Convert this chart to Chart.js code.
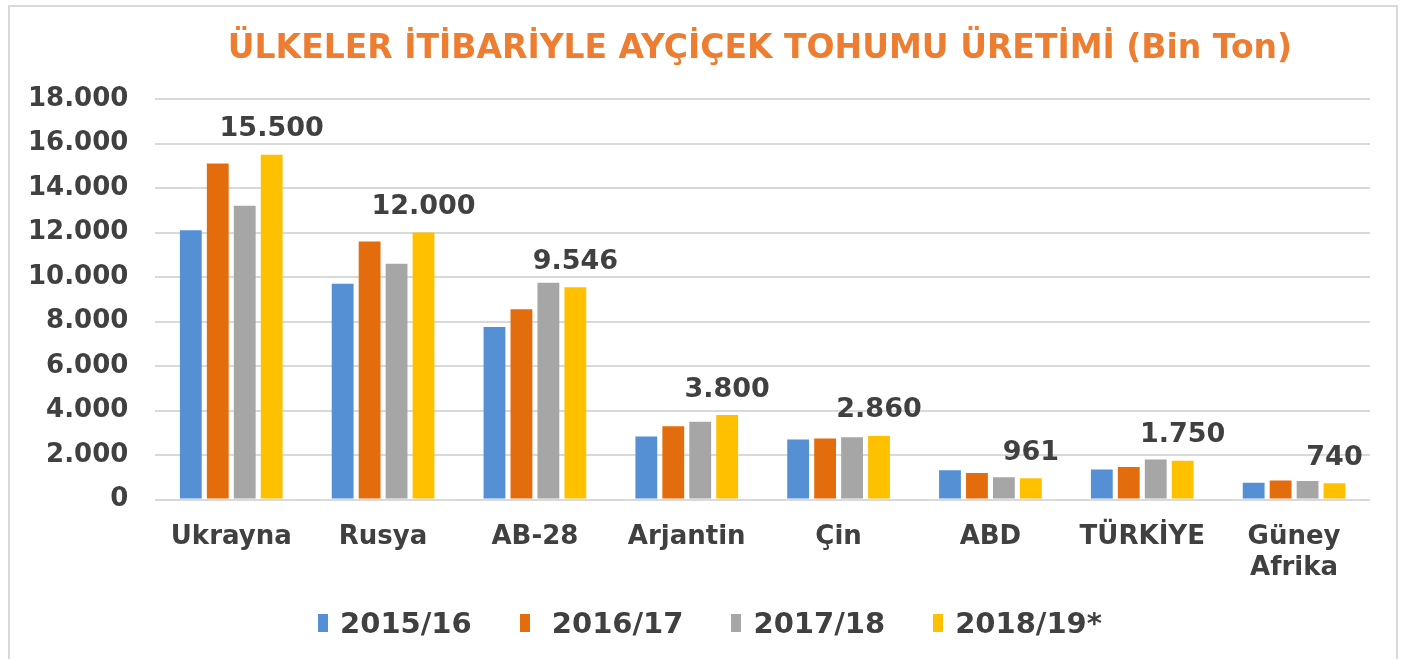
<!DOCTYPE html>
<html lang="tr">
<head>
<meta charset="utf-8">
<title>Ayçiçek Tohumu Üretimi</title>
<script src="https://cdn.jsdelivr.net/npm/chart.js@4/dist/chart.umd.min.js"></script>
<style>
    html, body { margin: 0; padding: 0; background: #fff; width: 1420px; height: 659px; overflow: hidden; }
    .frame {
        position: absolute;
        left: 8px;
        top: 5px;
        width: 1390px;
        height: 660px;
        border: 2px solid #d9d9d9;
        box-sizing: border-box;
    }
    .frame canvas { display: block; }
    .chart-title {
        position: absolute;
        left: 0;
        top: 27px;
        width: 1420px;
        padding-left: 100px;
        box-sizing: border-box;
        text-align: center;
        font: bold 33px 'DejaVu Sans', Verdana, sans-serif;
        color: #ed7d31;
        line-height: 40px;
        white-space: nowrap;
    }
    .chart-legend {
        position: absolute;
        left: 0;
        top: 603px;
        width: 1420px;
        box-sizing: border-box;
        display: flex;
        justify-content: center;
        gap: 48px;
        font: bold 29px 'DejaVu Sans', Verdana, sans-serif;
        color: #404040;
        line-height: 40px;
    }
    .chart-legend .item { display: flex; align-items: center; white-space: pre; }
    .chart-legend .swatch { width: 10px; height: 18px; margin-right: 12px; }
</style>
</head>
<body>
<div class="frame"><canvas id="sunflowerChart"></canvas></div>
<div class="chart-title" id="chartTitle"></div>
<div class="chart-legend" id="chartLegend"></div>
<script>
const chartTitle = "ÜLKELER İTİBARİYLE AYÇİÇEK TOHUMU ÜRETİMİ (Bin Ton)";
const categories = ["Ukrayna", "Rusya", "AB-28", "Arjantin", "Çin", "ABD", "TÜRKİYE", ["Güney", "Afrika"]];
const seasons = ["2015/16", " 2016/17", "2017/18", "2018/19*"];
const values1516 = [12100, 9700, 7750, 2830, 2700, 1320, 1350, 760];
const values1617 = [15100, 11600, 8550, 3300, 2740, 1190, 1470, 860];
const values1718 = [13200, 10600, 9740, 3500, 2800, 1000, 1800, 840];
const values1819 = [15500, 12000, 9546, 3800, 2860, 961, 1750, 740];
const colors = ["#5590d4", "#e36c0c", "#a6a6a6", "#ffc000"];

const TEXT_COLOR = "#404040";
const FONT = "'DejaVu Sans', Verdana, sans-serif";

function fmt(v) {
    return String(v).replace(/\B(?=(\d{3})+(?!\d))/g, ".");
}

document.getElementById("chartTitle").textContent = chartTitle;

const legendEl = document.getElementById("chartLegend");
seasons.forEach((s, i) => {
    const item = document.createElement("div");
    item.className = "item";
    const sw = document.createElement("span");
    sw.className = "swatch";
    sw.style.background = colors[i];
    item.appendChild(sw);
    item.appendChild(document.createTextNode(s));
    legendEl.appendChild(item);
});

// labels only above the last season
const lastSeasonLabels = {
    id: "lastSeasonLabels",
    afterDatasetsDraw(chart) {
        const idx = chart.data.datasets.length - 1;
        const meta = chart.getDatasetMeta(idx);
        const ctx = chart.ctx;
        ctx.save();
        ctx.font = "bold 27px " + FONT;
        ctx.fillStyle = TEXT_COLOR;
        ctx.textAlign = "center";
        ctx.textBaseline = "bottom";
        meta.data.forEach((bar, i) => {
            const v = chart.data.datasets[idx].data[i];
            ctx.fillText(fmt(v), bar.x, bar.y - 12);
        });
        ctx.restore();
    },
};

const canvas = document.getElementById("sunflowerChart");
canvas.width = 1386;
canvas.height = 656;

new Chart(canvas, {
    type: "bar",
    data: {
        labels: categories,
        datasets: [values1516, values1617, values1718, values1819].map((d, i) => ({
            label: seasons[i],
            data: d,
            backgroundColor: colors[i],
            borderWidth: 0,
            categoryPercentage: 0.71,
            barPercentage: 0.81,
        })),
    },
    options: {
        responsive: false,
        animation: false,
        layout: { padding: { left: -9, right: 26, top: 92, bottom: 65 } },
        plugins: {
            title: { display: false },
            legend: { display: false },
            tooltip: { enabled: false },
        },
        scales: {
            x: {
                grid: { display: false },
                border: { display: false },
                ticks: {
                    color: TEXT_COLOR,
                    font: { family: FONT, size: 26, weight: "bold" },
                    maxRotation: 0,
                    padding: 14,
                },
            },
            y: {
                min: 0,
                max: 18000,
                grid: { color: "#d9d9d9", lineWidth: 2, drawTicks: false },
                border: { display: false },
                ticks: {
                    stepSize: 2000,
                    color: TEXT_COLOR,
                    font: { family: FONT, size: 26, weight: "bold" },
                    padding: 27,
                    callback: (v) => fmt(v),
                },
            },
        },
    },
    plugins: [lastSeasonLabels],
});
</script>
</body>
</html>
